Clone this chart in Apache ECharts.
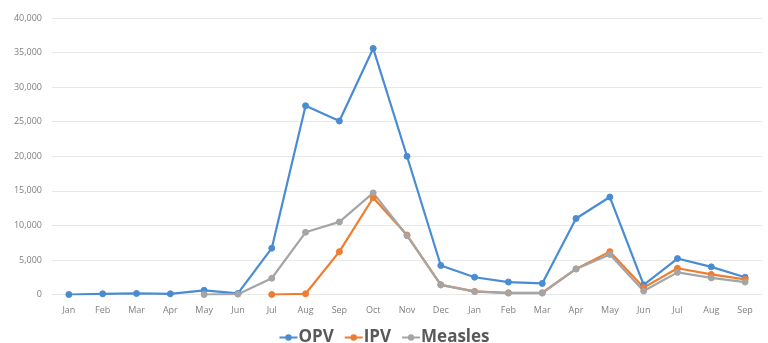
<!DOCTYPE html>
<html>
<head>
<meta charset="utf-8">
<script src="https://cdn.jsdelivr.net/npm/echarts@6/dist/echarts.min.js"></script>
<style>
  html, body { margin: 0; padding: 0; background: #fff; }
  #chart { width: 768px; height: 343px; }
</style>
</head>
<body>
<div id="chart"></div>
<script>
// Monthly doses, Jan of year one through Sep of year two
const months = ['Jan','Feb','Mar','Apr','May','Jun','Jul','Aug','Sep','Oct','Nov','Dec',
                'Jan','Feb','Mar','Apr','May','Jun','Jul','Aug','Sep'];
const opv = [0, 100, 150, 100, 600, 150, 6700, 27300, 25100, 35600, 20000, 4200,
             2500, 1800, 1600, 11000, 14100, 1400, 5200, 4000, 2500];
const ipv = [null, null, null, null, null, null, 0, 100, 6200, 14000, 8600, 1400,
             450, 250, 250, 3700, 6200, 1000, 3800, 2900, 2200];
const measles = [null, null, null, null, 0, 50, 2350, 9000, 10500, 14700, 8500, 1400,
                 420, 200, 200, 3700, 5800, 500, 3200, 2400, 1800];
const yTicks = { min: 0, max: 40000, interval: 5000 };

const colors = { opv: '#4A8CD3', ipv: '#ED7D31', measles: '#A5A5A5' };

function lineSeries(name, data, color) {
  return {
    name: name,
    type: 'line',
    data: data,
    symbol: 'circle',
    symbolSize: 6,
    connectNulls: false,
    lineStyle: { width: 2.2, color: color },
    itemStyle: { color: color, borderColor: color },
    emphasis: { disabled: true }
  };
}

const chart = echarts.init(document.getElementById('chart'), null, { renderer: 'canvas' });
chart.setOption({
  animation: false,
  backgroundColor: '#fff',
  grid: { left: 52, right: 6, top: 18, bottom: 48.5, containLabel: false },
  xAxis: {
    type: 'category',
    data: months,
    boundaryGap: true,
    axisLine: { show: false },
    axisTick: { show: false },
    axisLabel: { color: '#7f7f7f', fontSize: 9, fontFamily: 'Open Sans', margin: 11 }
  },
  yAxis: {
    type: 'value',
    min: yTicks.min,
    max: yTicks.max,
    interval: yTicks.interval,
    axisLine: { show: false },
    axisTick: { show: false },
    splitLine: { lineStyle: { color: '#e8e8e8', width: 1 } },
    axisLabel: {
      color: '#7f7f7f', fontSize: 9, fontFamily: 'Open Sans', margin: 10,
      formatter: v => v.toLocaleString('en-US')
    }
  },
  legend: {
    top: 324,
    left: 'center',
    itemWidth: 18,
    itemHeight: 8,
    itemGap: 10,
    textStyle: { color: '#595959', fontSize: 17, fontWeight: 'bold', fontFamily: 'Open Sans', padding: [0, 0, 0, -4] },
    data: ['OPV', 'IPV', 'Measles']
  },
  series: [
    lineSeries('OPV', opv, colors.opv),
    lineSeries('IPV', ipv, colors.ipv),
    lineSeries('Measles', measles, colors.measles)
  ]
});
</script>
</body>
</html>
